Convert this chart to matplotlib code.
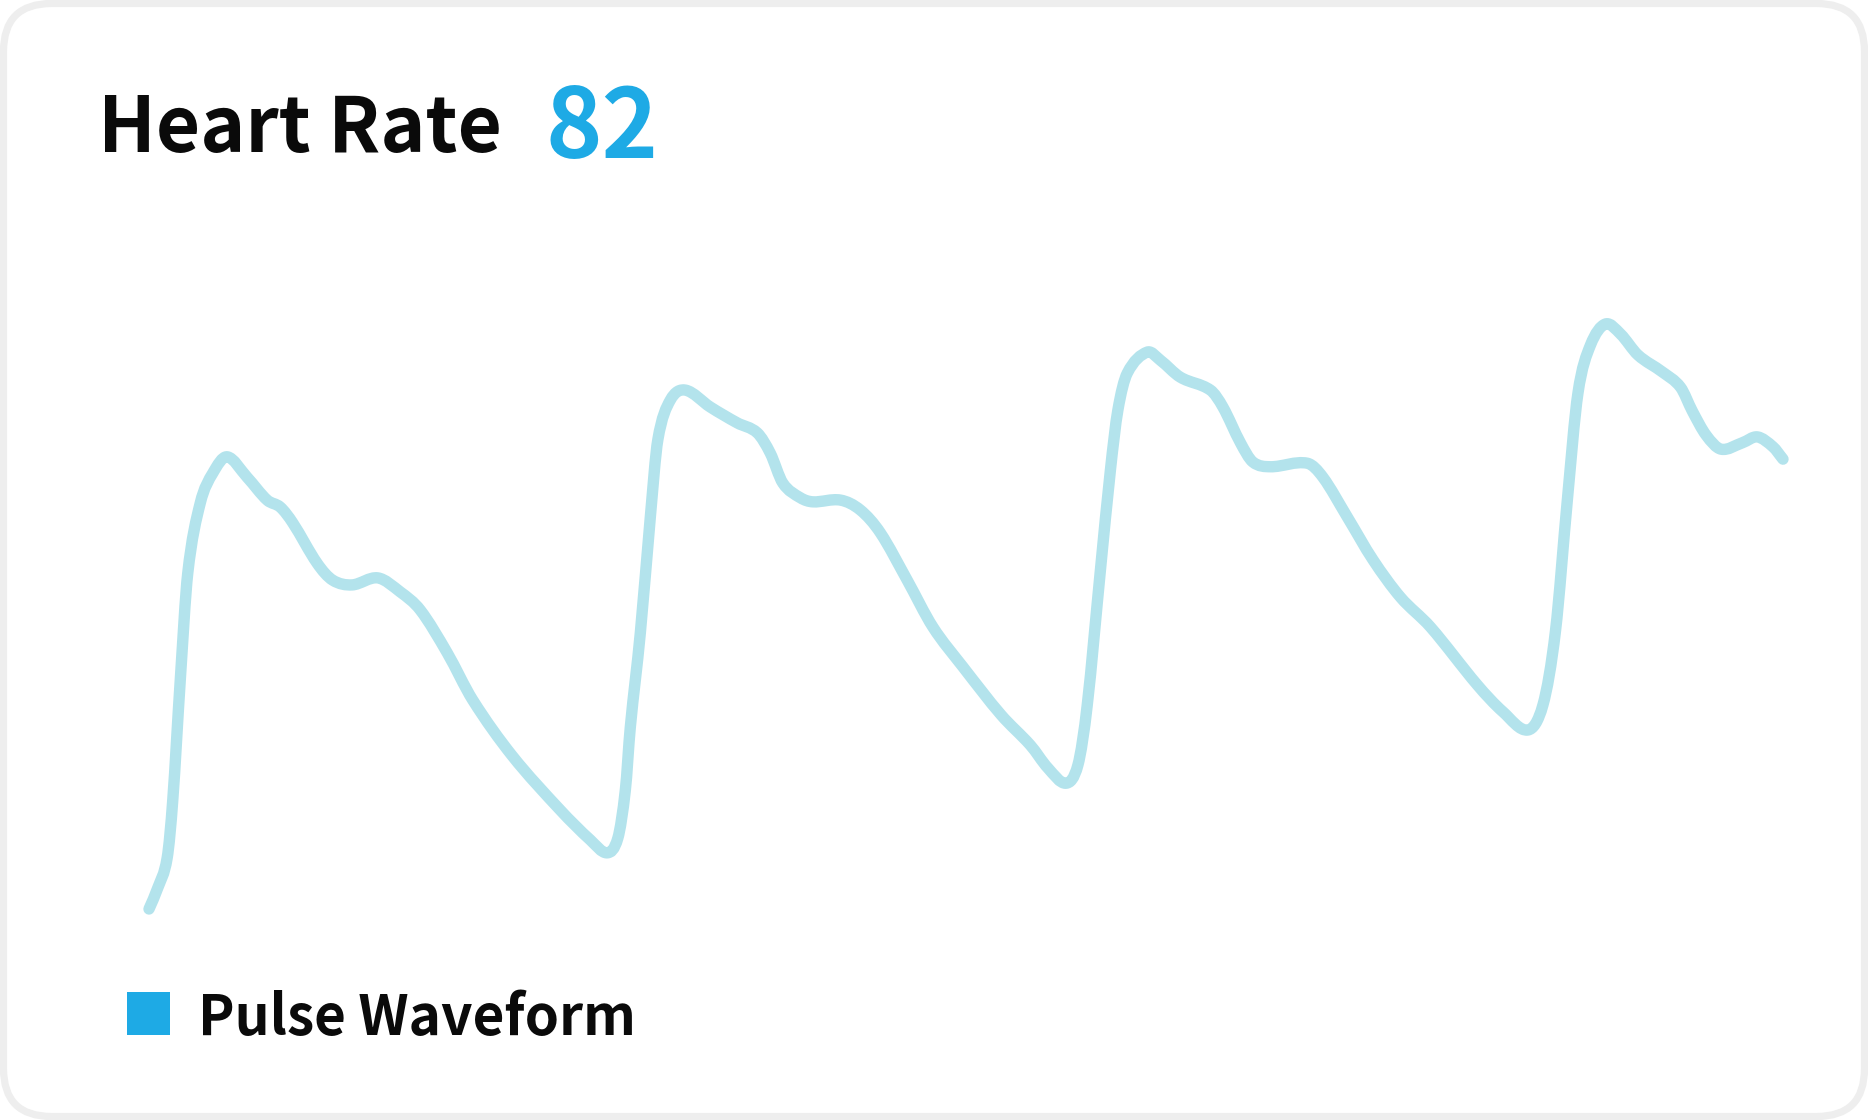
import numpy as np
import matplotlib
matplotlib.use("Agg")
import matplotlib.pyplot as plt
from matplotlib.path import Path
from matplotlib.patches import PathPatch, FancyBboxPatch, Rectangle

# ---------------- data ----------------
title_text = "Heart Rate"
heart_rate = 82
series_name = "Pulse Waveform"

# time in ms
time_ms = [0, 14, 29, 38, 50, 62, 82, 102, 125, 157, 189, 210, 230, 269, 294, 325, 366, 402, 434, 477,
           518, 581, 658, 706, 733, 750, 762, 770, 786, 802, 814, 834, 858, 898, 941, 973, 994, 1014, 1042, 1062,
           1106, 1138, 1170, 1213, 1254, 1302, 1363, 1410, 1438, 1467, 1486, 1501, 1522, 1538, 1550, 1565, 1597, 1618, 1650, 1698,
           1718, 1746, 1766, 1794, 1853, 1878, 1917, 1958, 2002, 2050, 2125, 2166, 2206, 2230, 2250, 2269, 2286, 2306, 2330, 2354,
           2382, 2421, 2450, 2469, 2491, 2515, 2549, 2573, 2598, 2614]
# amplitude, arbitrary units (0-100)
amplitude = [0.0, 3.6, 8.7, 18.6, 39.1, 57.4, 69.4, 74.5, 77.3, 73.8, 69.9, 68.7, 66.0, 59.1, 56.2, 55.4, 56.6, 54.2, 51.1, 43.8,
             35.7, 26.2, 16.9, 11.8, 9.6, 12.1, 20.3, 31.1, 47.2, 67.0, 80.2, 87.0, 88.7, 85.8, 83.1, 81.4, 77.9, 72.8, 70.3, 69.6,
             69.9, 68.2, 64.3, 56.2, 48.2, 41.4, 33.2, 28.0, 24.1, 21.5, 24.6, 34.9, 57.9, 75.0, 85.3, 91.6, 95.2, 93.8, 90.9, 88.7,
             85.8, 79.7, 76.4, 75.6, 76.2, 73.8, 67.0, 59.7, 53.3, 48.2, 38.3, 33.7, 30.6, 34.9, 47.5, 69.9, 88.2, 96.4, 100.0, 98.3,
             94.7, 91.8, 89.2, 85.1, 81.0, 78.6, 79.7, 80.7, 79.0, 76.9]

LINE_COLOR = "#B3E3EC"
ACCENT = "#1EAAE5"
TEXT_COLOR = "#0A0A0A"
FONT = ["Noto Sans CJK SC", "DejaVu Sans"]

W, H = 1868, 1120
fig = plt.figure(figsize=(W / 100, H / 100), dpi=100)
fig.patch.set_facecolor("white")

# card border (drawn beneath everything)
card = FancyBboxPatch((0.035, 0.035), W / 100 - 0.07, H / 100 - 0.07,
                      boxstyle="round,pad=0,rounding_size=0.48",
                      transform=fig.dpi_scale_trans, facecolor="white",
                      edgecolor="#EEEEEE", linewidth=5.2, zorder=-10)
fig.add_artist(card)

# plot axes
ax = fig.add_axes([149 / W, 1 - 909 / H, 1634 / W, 585 / H], zorder=5)
ax.set_xlim(min(time_ms), max(time_ms))
ax.set_ylim(0, 100)
ax.axis("off")
ax.patch.set_alpha(0)


def smooth_path(x, y):
    """Cubic Bezier path through the points with finite-difference tangents."""
    x = np.asarray(x, float)
    y = np.asarray(y, float)
    n = len(x)
    dx = np.diff(x)
    m = np.zeros(n)
    m[0] = (y[1] - y[0]) / dx[0]
    m[-1] = (y[-1] - y[-2]) / dx[-1]
    for i in range(1, n - 1):
        m[i] = (y[i + 1] - y[i - 1]) / (x[i + 1] - x[i - 1])
    verts = [(x[0], y[0])]
    codes = [Path.MOVETO]
    for i in range(n - 1):
        h = dx[i] / 3.0
        verts += [(x[i] + h, y[i] + m[i] * h),
                  (x[i + 1] - h, y[i + 1] - m[i + 1] * h),
                  (x[i + 1], y[i + 1])]
        codes += [Path.CURVE4] * 3
    return Path(verts, codes)


patch = PathPatch(smooth_path(time_ms, amplitude), facecolor="none",
                  edgecolor=LINE_COLOR, linewidth=8.2, capstyle="round",
                  joinstyle="round", clip_on=False)
ax.add_patch(patch)

# title
fig.text(98 / W, 1 - 152 / H, title_text, fontsize=55, fontweight="bold",
         color=TEXT_COLOR, family=FONT, ha="left", va="baseline")
fig.text(545 / W, 1 - 158 / H, str(heart_rate), fontsize=69, fontweight="bold",
         color=ACCENT, family=FONT, ha="left", va="baseline")

# legend
fig.add_artist(Rectangle((127 / W, 1 - 1035 / H), 43 / W, 43 / H,
                         transform=fig.transFigure, facecolor=ACCENT,
                         edgecolor="none"))
fig.text(198 / W, 1 - 1035 / H, series_name, fontsize=39.5, fontweight="bold",
         color=TEXT_COLOR, family=FONT, ha="left", va="baseline")

fig.savefig("out.png", dpi=100, facecolor="white")
